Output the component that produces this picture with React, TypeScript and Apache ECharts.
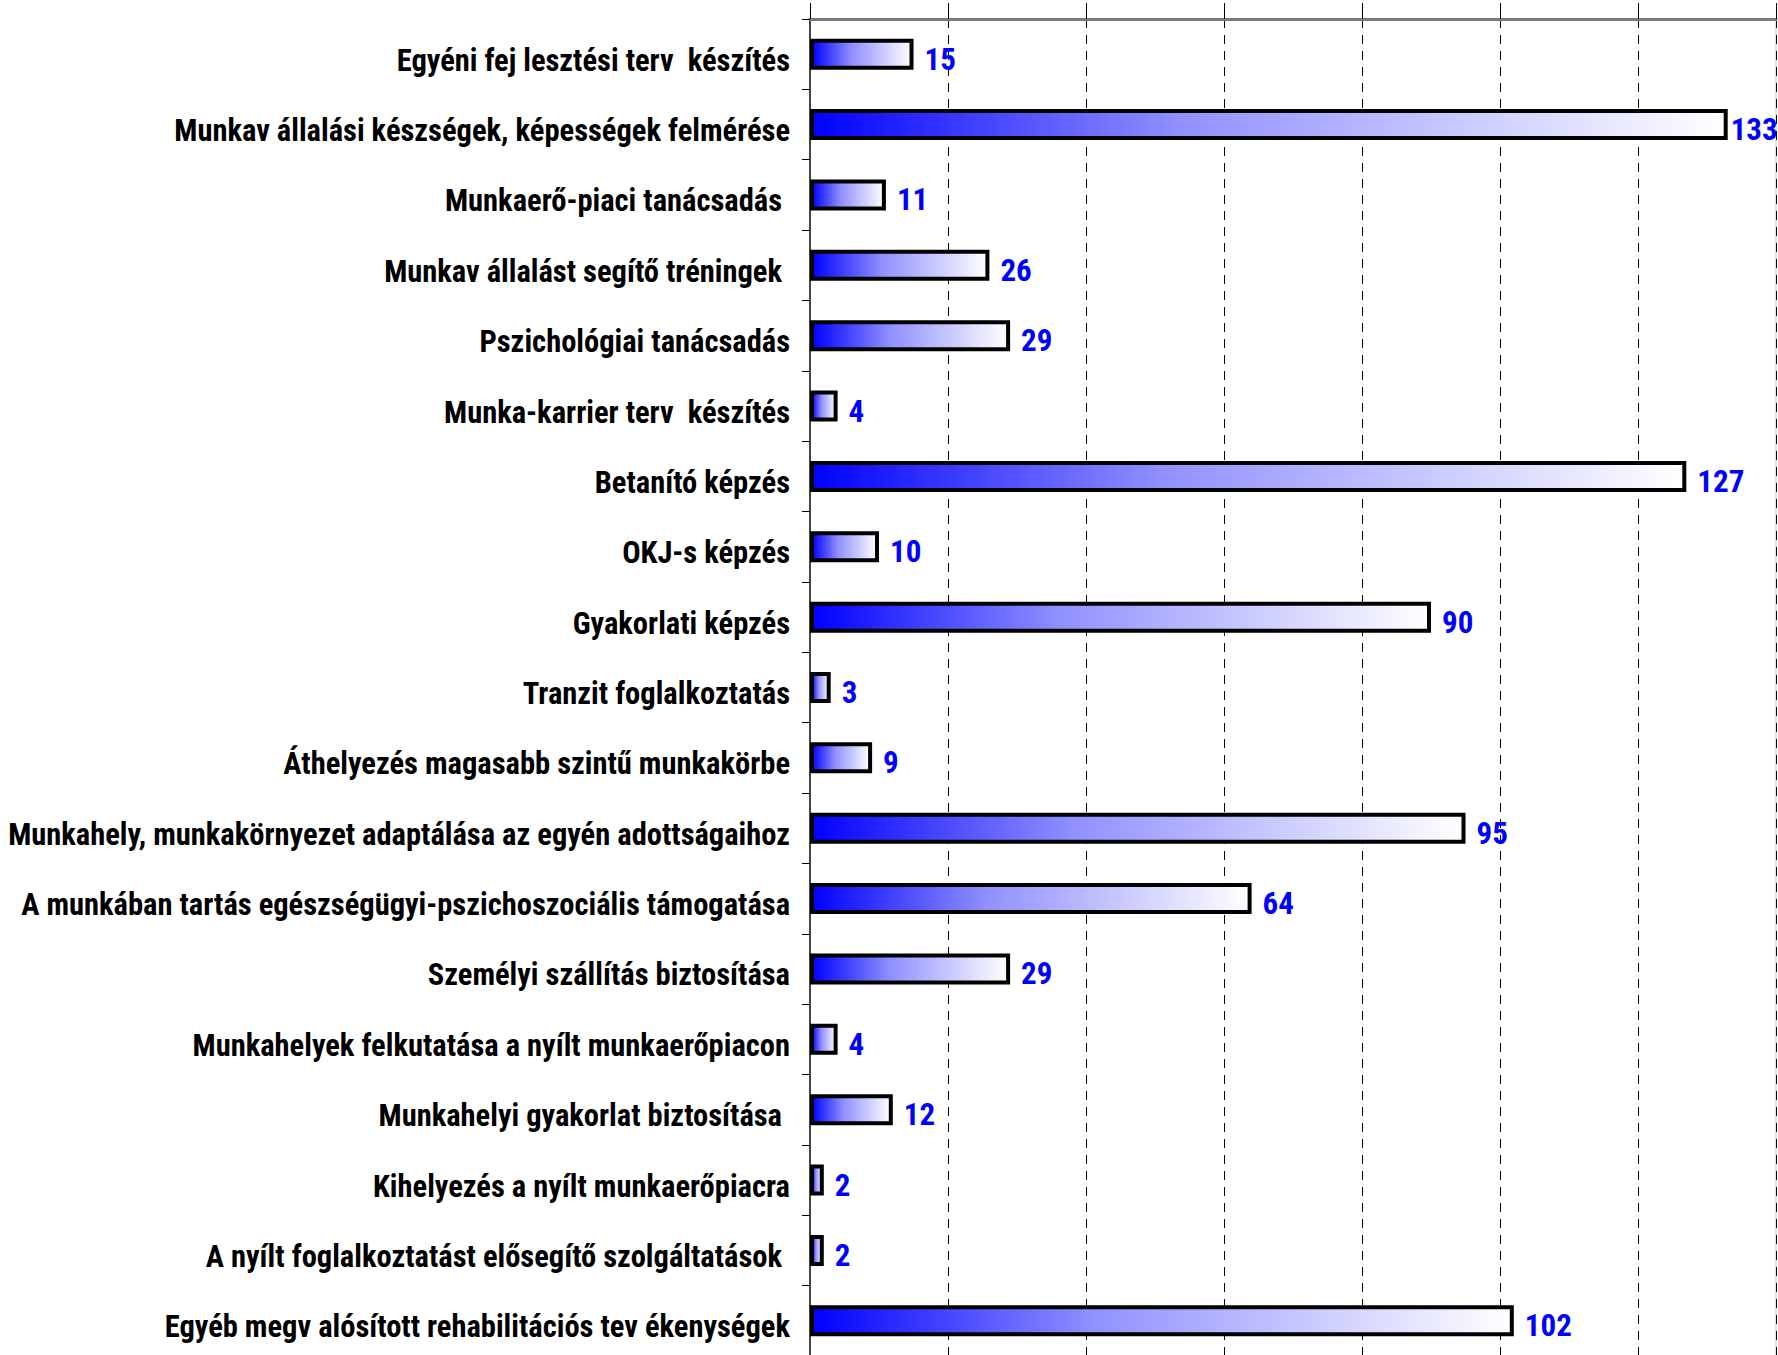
import React, { useEffect, useRef } from "react";
import * as echarts from "echarts";

const categories = [
  "Egyéni fej lesztési terv  készítés",
  "Munkav állalási készségek, képességek felmérése",
  "Munkaerő-piaci tanácsadás",
  "Munkav állalást segítő tréningek",
  "Pszichológiai tanácsadás",
  "Munka-karrier terv  készítés",
  "Betanító képzés",
  "OKJ-s képzés",
  "Gyakorlati képzés",
  "Tranzit foglalkoztatás",
  "Áthelyezés magasabb szintű munkakörbe",
  "Munkahely, munkakörnyezet adaptálása az egyén adottságaihoz",
  "A munkában tartás egészségügyi-pszichoszociális támogatása",
  "Személyi szállítás biztosítása",
  "Munkahelyek felkutatása a nyílt munkaerőpiacon",
  "Munkahelyi gyakorlat biztosítása",
  "Kihelyezés a nyílt munkaerőpiacra",
  "A nyílt foglalkoztatást elősegítő szolgáltatások",
  "Egyéb megv alósított rehabilitációs tev ékenységek",
];

const values = [15, 133, 11, 26, 29, 4, 127, 10, 90, 3, 9, 95, 64, 29, 4, 12, 2, 2, 102];

// categories whose label in the reference carries a trailing space
const trailingSpace = [
  "Munkaerő-piaci tanácsadás",
  "Munkav állalást segítő tréningek",
  "Munkahelyi gyakorlat biztosítása",
  "A nyílt foglalkoztatást elősegítő szolgáltatások",
];

const FONT = "'Roboto Condensed', 'Liberation Sans Narrow', Roboto, sans-serif";

export default function App() {
  const ref = useRef<HTMLDivElement>(null);
  useEffect(() => {
    if (!ref.current) return;
    const chart = echarts.init(ref.current, undefined, { renderer: "svg" });
    const gradient = new echarts.graphic.LinearGradient(0, 0, 1, 0, [
      { offset: 0, color: "#0000ff" },
      { offset: 0.4, color: "#9090ff" },
      { offset: 1, color: "#ffffff" },
    ]);
    const maxVal = Math.max(...values);
    chart.setOption({
      animation: false,
      backgroundColor: "#ffffff",
      grid: {
        left: 810,
        right: 2,
        top: 19,
        height: 1337,
        outerBoundsMode: "none",
        containLabel: false,
        show: true,
        borderColor: "#c8c8c8",
        borderWidth: 1,
        backgroundColor: "transparent",
      },
      xAxis: {
        type: "value",
        position: "top",
        min: 0,
        max: 140,
        interval: 20,
        axisLine: { show: true, lineStyle: { color: "#7a7a7a", width: 3 } },
        axisTick: { show: true, length: 16, lineStyle: { color: "#000", width: 1 } },
        axisLabel: { show: false },
        splitLine: {
          show: true,
          lineStyle: { color: "#000", width: 1, type: [9, 7] },
        },
      },
      yAxis: {
        type: "category",
        inverse: true,
        data: categories,
        axisLine: { show: true, onZero: false, lineStyle: { color: "#444", width: 2 } },
        axisTick: { show: true, length: 8, lineStyle: { color: "#000", width: 1 } },
        axisLabel: {
          margin: 20,
          formatter: (v: string) =>
            trailingSpace.includes(v) ? `{b|${v}}` : `{a|${v}}`,
          rich: {
            a: {
              fontFamily: FONT,
              fontWeight: "bold",
              fontSize: 30.5,
              color: "#000",
              padding: [12, 0, 0, 0],
            },
            b: {
              fontFamily: FONT,
              fontWeight: "bold",
              fontSize: 30.5,
              color: "#000",
              padding: [12, 8, 0, 0],
            },
          },
        },
      },
      series: [
        {
          type: "bar",
          data: values.map((v) =>
            v === maxVal ? { value: v, label: { distance: 3 } } : v
          ),
          barWidth: 31,
          itemStyle: {
            color: gradient,
            borderColor: "#000",
            borderWidth: 4,
          },
          label: {
            show: true,
            position: "right",
            distance: 11,
            offset: [0, 5],
            color: "#0000ff",
            fontFamily: FONT,
            fontWeight: "bold",
            fontSize: 31,
          },
        },
      ],
    });
    return () => chart.dispose();
  }, []);
  return (
    <div
      ref={ref}
      style={{ position: "absolute", left: 0, top: 0, width: 1778, height: 1355 }}
    />
  );
}
